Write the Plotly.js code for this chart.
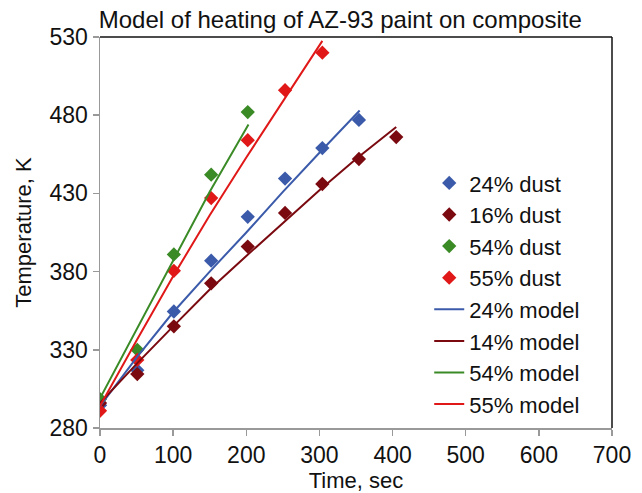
<!DOCTYPE html>
<html>
<head>
<meta charset="utf-8">
<script src="https://cdn.plot.ly/plotly-3.0.1.min.js"></script>
<style>html,body{margin:0;padding:0;background:#fff;}#chart{width:642px;height:493px;}</style>
</head>
<body>
<div id="chart"></div>
<script>
// Measured data (time in sec, temperature in K)
const tDust = [0, 51, 101, 152, 202, 253, 304, 354, 405];
const dust24 = [294.5, 317, 354.5, 387, 415, 439.5, 459, 477];
const dust16 = [296, 314.5, 345, 372.5, 396, 417.5, 436, 452, 466];
const dust54 = [298.5, 330, 391, 442, 482];
const dust55 = [291, 323.5, 380.5, 427, 464, 496, 520];

const tModel24 = [0, 50, 100, 150, 200, 250, 300, 355];
const model24 = [294, 325, 354, 380, 405, 431, 456, 483];
const tModel14 = [0, 50, 100, 150, 200, 250, 300, 350, 405];
const model14 = [296, 321, 345, 368.5, 390, 411, 432, 452, 472.5];
const tModel54 = [0, 50, 100, 150, 203];
const model54 = [299, 343, 387, 431, 474];
const tModel55 = [0, 50, 100, 150, 200, 250, 304];
const model55 = [294, 336, 377, 416, 453, 489, 527.5];

const names = ['24% dust', '16% dust', '54% dust', '55% dust', '24% model', '14% model', '54% model', '55% model'];
const xTicks = [0, 100, 200, 300, 400, 500, 600, 700];
const yTicks = [280, 330, 380, 430, 480, 530];

const cBlue = '#3B5BAA', cDark = '#7A0A10', cGreen = '#3A8A26', cRed = '#E01818';

function pts(x, y, name, color, g) {
  return {x: x.slice(0, y.length), y: y, name: name, type: 'scatter', mode: 'markers',
    legendgroup: g,
    marker: {symbol: 'diamond', size: 11, color: color}};
}
function line(x, y, name, color, g) {
  return {x: x, y: y, name: name, type: 'scatter', mode: 'lines', legendgroup: g,
    line: {color: color, width: 2}};
}

const data = [
  pts(tDust, dust24, names[0], cBlue, 'g1'),
  pts(tDust, dust16, names[1], cDark, 'g2'),
  pts(tDust, dust54, names[2], cGreen, 'g3'),
  pts(tDust, dust55, names[3], cRed, 'g4'),
  line(tModel24, model24, names[4], cBlue, 'g5'),
  line(tModel14, model14, names[5], cDark, 'g6'),
  line(tModel54, model54, names[6], cGreen, 'g7'),
  line(tModel55, model55, names[7], cRed, 'g8')
];

const font = 'Liberation Sans, Arial, sans-serif';
const layout = {
  width: 642, height: 493,
  margin: {l: 100, r: 30, t: 37, b: 65},
  paper_bgcolor: '#fff', plot_bgcolor: '#fff',
  font: {family: font, size: 23, color: '#111'},
  title: {text: 'Model of heating of AZ-93 paint on composite', x: 0.53, xanchor: 'center', y: 0.96, yanchor: 'middle',
    font: {family: font, size: 24, color: '#111'}},
  showlegend: true,
  legend: {x: 0.643, xanchor: 'left', y: 0.68, yanchor: 'top', traceorder: 'grouped', tracegroupgap: 0,
    font: {family: font, size: 22, color: '#111'}, bgcolor: 'rgba(0,0,0,0)', borderwidth: 0, itemwidth: 30},
  xaxis: {range: [0, 700], tickvals: xTicks, ticks: 'outside', ticklen: 6, tickcolor: '#999', tickwidth: 1.5,
    showline: true, linecolor: '#999', linewidth: 1.5, showgrid: false, zeroline: false,
    tickfont: {family: font, size: 23, color: '#111'},
    title: {text: 'Time, sec', font: {family: font, size: 22, color: '#111'}, standoff: 8}},
  yaxis: {range: [280, 530], tickvals: yTicks, ticks: 'outside', ticklen: 6, tickcolor: '#999', tickwidth: 1.5,
    showline: true, linecolor: '#999', linewidth: 1.5, showgrid: false, zeroline: false,
    tickfont: {family: font, size: 23, color: '#111'},
    title: {text: 'Temperature, K', font: {family: font, size: 22, color: '#111'}, standoff: 12}},
  shapes: [
    {type: 'line', xref: 'paper', yref: 'paper', x0: 0, x1: 1, y0: 1, y1: 1, line: {color: '#111', width: 1.5}},
    {type: 'line', xref: 'paper', yref: 'paper', x0: 1, x1: 1, y0: 0, y1: 1, line: {color: '#111', width: 1.5}}
  ]
};

Plotly.newPlot('chart', data, layout, {displayModeBar: false, staticPlot: true});
</script>
</body>
</html>
